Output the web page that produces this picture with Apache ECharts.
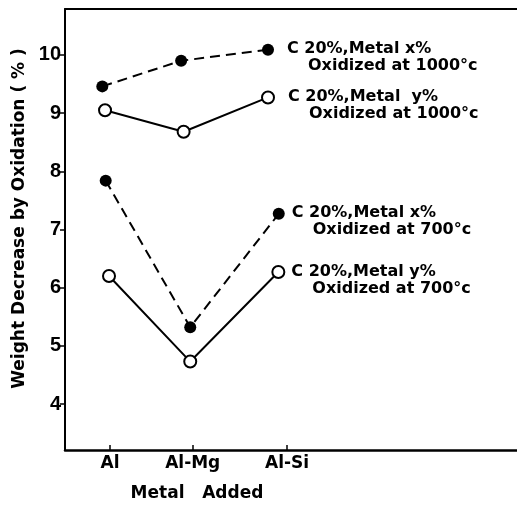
<!DOCTYPE html>
<html>
<head>
<meta charset="utf-8">
<script src="https://cdn.jsdelivr.net/npm/echarts@6/dist/echarts.min.js"></script>
<style>
  html, body { margin: 0; padding: 0; background: #fff; }
  #main { width: 517px; height: 509px; }
</style>
</head>
<body>
<div id="main"></div>
<script>
// categories on the x axis and where their ticks sit
const categories = ['Al', 'Al-Mg', 'Al-Si']
const categoryTicks = [1, 2, 3.14]

// y axis tick labels
const yTicks = [4, 5, 6, 7, 8, 9, 10]

// series: x position of each point (points are drawn a little off the ticks) and value
const x1000Pos = [0.907, 1.86, 2.91]
const x1000 = [9.46, 9.9, 10.09]
const y1000Pos = [0.94, 1.89, 2.91]
const y1000 = [9.05, 8.68, 9.27]
const x700Pos = [0.948, 1.97, 3.04]
const x700 = [7.84, 5.32, 7.27]
const y700Pos = [0.988, 1.97, 3.035]
const y700 = [6.2, 4.73, 6.27]

const labelFont = 'DejaVu Sans'

function makeSeries(name, xs, ys, filled, line1, line2, dist) {
  return {
    name: name,
    type: 'line',
    symbol: 'circle',
    symbolSize: 12,
    lineStyle: {
      color: '#000',
      width: 2,
      type: filled ? [10, 6] : 'solid'
    },
    itemStyle: {
      color: filled ? '#000' : '#fff',
      borderColor: '#000',
      borderWidth: filled ? 0 : 2
    },
    emphasis: { disabled: true },
    z: filled ? 3 : 2,
    data: ys.map(function (v, i) {
      const item = { value: [xs[i], v] }
      if (i === ys.length - 1) {
        item.label = {
          show: true,
          position: 'right',
          distance: dist,
          offset: [0, 8],
          color: '#000',
          fontFamily: labelFont,
          fontWeight: 'bold',
          fontSize: 16,
          lineHeight: 17,
          formatter: '{a|' + line1 + '}\n{b|' + line2 + '}',
          rich: {
            a: { fontFamily: labelFont, fontWeight: 'bold', fontSize: 16, lineHeight: 17, color: '#000' },
            b: { fontFamily: labelFont, fontWeight: 'bold', fontSize: 16, lineHeight: 17, color: '#000', padding: [0, 0, 0, 21] }
          }
        }
      }
      return item
    })
  }
}

let myChart = echarts.init(document.getElementById('main'))
myChart.setOption({
  backgroundColor: '#fff',
  animation: false,
  grid: {
    left: 65,
    right: 0,
    top: 9,
    bottom: 59,
    containLabel: false,
    outerBoundsMode: 'none'
  },
  xAxis: [
    {
      type: 'value',
      min: 0.456,
      max: 5.92,
      position: 'bottom',
      splitLine: { show: false },
      axisLine: { show: true, lineStyle: { color: '#000', width: 2.5 } },
      axisTick: {
        show: true,
        inside: true,
        length: 5,
        customValues: categoryTicks,
        lineStyle: { color: '#000', width: 1.5 }
      },
      axisLabel: {
        customValues: categoryTicks,
        margin: 5,
        color: '#000',
        fontFamily: labelFont,
        fontWeight: 'bold',
        fontSize: 17,
        formatter: function (v) {
          const i = categoryTicks.indexOf(v)
          return i >= 0 ? categories[i] : ''
        }
      }
    },
    {
      // top frame line
      type: 'value',
      min: 0.456,
      max: 5.92,
      position: 'top',
      splitLine: { show: false },
      axisLine: { show: true, lineStyle: { color: '#000', width: 2 } },
      axisTick: { show: false },
      axisLabel: { show: false }
    }
  ],
  yAxis: {
    type: 'value',
    min: 3.21,
    max: 10.79,
    name: 'Weight Decrease by Oxidation ( % )',
    nameLocation: 'middle',
    nameGap: 32,
    nameTextStyle: {
      color: '#000',
      fontFamily: labelFont,
      fontWeight: 'bold',
      fontSize: 17,
      padding: [0, 0, 0, 22]
    },
    splitLine: { show: false },
    axisLine: { show: true, lineStyle: { color: '#000', width: 2 } },
    axisTick: {
      show: true,
      length: 5,
      customValues: yTicks,
      lineStyle: { color: '#000', width: 1.5 }
    },
    axisLabel: {
      customValues: yTicks,
      margin: 4,
      color: '#000',
      fontFamily: 'Liberation Sans',
      fontWeight: 'bold',
      fontSize: 20
    }
  },
  graphic: [
    {
      type: 'text',
      x: 197,
      y: 485,
      style: {
        text: 'Metal   Added',
        fill: '#000',
        font: 'bold 17px "DejaVu Sans"',
        textAlign: 'center',
        textVerticalAlign: 'top'
      }
    }
  ],
  series: [
    makeSeries('x1000', x1000Pos, x1000, true, 'C 20%,Metal x%', 'Oxidized at 1000°c', 13),
    makeSeries('y1000', y1000Pos, y1000, false, 'C 20%,Metal  y%', 'Oxidized at 1000°c', 13),
    makeSeries('x700', x700Pos, x700, true, 'C 20%,Metal x%', 'Oxidized at 700°c', 7),
    makeSeries('y700', y700Pos, y700, false, 'C 20%,Metal y%', 'Oxidized at 700°c', 6)
  ]
})
</script>
</body>
</html>
